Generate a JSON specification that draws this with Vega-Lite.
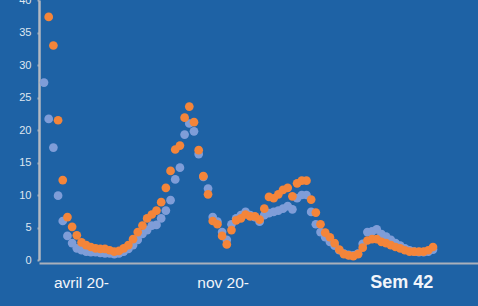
{
  "$schema": "https://vega.github.io/schema/vega-lite/v6.json",
  "width": 439,
  "height": 260,
  "autosize": {"type": "none"},
  "padding": {"left": 39, "top": 0, "right": 0, "bottom": 46},
  "background": "#1e62a5",
  "config": {"view": {"stroke": null}, "font": "Liberation Sans"},
  "data": {"values": [
    {"i":0,"serie":"s1","v":27.3},{"i":1,"serie":"s1","v":21.7},{"i":2,"serie":"s1","v":17.3},{"i":3,"serie":"s1","v":9.9},{"i":4,"serie":"s1","v":6.0},{"i":5,"serie":"s1","v":3.7},{"i":6,"serie":"s1","v":2.6},{"i":7,"serie":"s1","v":1.8},{"i":8,"serie":"s1","v":1.5},{"i":9,"serie":"s1","v":1.3},
    {"i":10,"serie":"s1","v":1.2},{"i":11,"serie":"s1","v":1.2},{"i":12,"serie":"s1","v":1.1},{"i":13,"serie":"s1","v":1.0},{"i":14,"serie":"s1","v":1.0},{"i":15,"serie":"s1","v":0.9},{"i":16,"serie":"s1","v":1.0},{"i":17,"serie":"s1","v":1.3},{"i":18,"serie":"s1","v":1.7},{"i":19,"serie":"s1","v":2.3},
    {"i":20,"serie":"s1","v":3.1},{"i":21,"serie":"s1","v":4.0},{"i":22,"serie":"s1","v":4.6},{"i":23,"serie":"s1","v":5.3},{"i":24,"serie":"s1","v":5.4},{"i":25,"serie":"s1","v":6.4},{"i":26,"serie":"s1","v":7.6},{"i":27,"serie":"s1","v":9.2},{"i":28,"serie":"s1","v":12.4},{"i":29,"serie":"s1","v":14.2},
    {"i":30,"serie":"s1","v":19.3},{"i":31,"serie":"s1","v":21.0},{"i":32,"serie":"s1","v":19.8},{"i":33,"serie":"s1","v":16.3},{"i":34,"serie":"s1","v":12.8},{"i":35,"serie":"s1","v":11.0},{"i":36,"serie":"s1","v":6.6},{"i":37,"serie":"s1","v":5.9},{"i":38,"serie":"s1","v":4.3},{"i":39,"serie":"s1","v":3.1},
    {"i":40,"serie":"s1","v":5.5},{"i":41,"serie":"s1","v":6.4},{"i":42,"serie":"s1","v":6.9},{"i":43,"serie":"s1","v":7.4},{"i":44,"serie":"s1","v":6.9},{"i":45,"serie":"s1","v":6.6},{"i":46,"serie":"s1","v":5.9},{"i":47,"serie":"s1","v":6.9},{"i":48,"serie":"s1","v":7.2},{"i":49,"serie":"s1","v":7.4},
    {"i":50,"serie":"s1","v":7.6},{"i":51,"serie":"s1","v":7.9},{"i":52,"serie":"s1","v":8.3},{"i":53,"serie":"s1","v":7.8},{"i":54,"serie":"s1","v":9.5},{"i":55,"serie":"s1","v":10.0},{"i":56,"serie":"s1","v":10.0},{"i":57,"serie":"s1","v":7.4},{"i":58,"serie":"s1","v":5.5},{"i":59,"serie":"s1","v":4.3},
    {"i":60,"serie":"s1","v":3.5},{"i":61,"serie":"s1","v":2.8},{"i":62,"serie":"s1","v":2.2},{"i":63,"serie":"s1","v":1.5},{"i":64,"serie":"s1","v":1.0},{"i":65,"serie":"s1","v":0.8},{"i":66,"serie":"s1","v":0.7},{"i":67,"serie":"s1","v":1.0},{"i":68,"serie":"s1","v":2.5},{"i":69,"serie":"s1","v":4.3},
    {"i":70,"serie":"s1","v":4.4},{"i":71,"serie":"s1","v":4.7},{"i":72,"serie":"s1","v":4.0},{"i":73,"serie":"s1","v":3.6},{"i":74,"serie":"s1","v":3.1},{"i":75,"serie":"s1","v":2.6},{"i":76,"serie":"s1","v":2.2},{"i":77,"serie":"s1","v":1.8},{"i":78,"serie":"s1","v":1.5},{"i":79,"serie":"s1","v":1.3},
    {"i":80,"serie":"s1","v":1.2},{"i":81,"serie":"s1","v":1.2},{"i":82,"serie":"s1","v":1.3},{"i":83,"serie":"s1","v":1.6},
    {"i":1,"serie":"s2","v":37.4},{"i":2,"serie":"s2","v":33.0},{"i":3,"serie":"s2","v":21.5},{"i":4,"serie":"s2","v":12.3},{"i":5,"serie":"s2","v":6.6},{"i":6,"serie":"s2","v":5.1},{"i":7,"serie":"s2","v":3.8},{"i":8,"serie":"s2","v":2.7},{"i":9,"serie":"s2","v":2.3},
    {"i":10,"serie":"s2","v":2.0},{"i":11,"serie":"s2","v":1.8},{"i":12,"serie":"s2","v":1.7},{"i":13,"serie":"s2","v":1.7},{"i":14,"serie":"s2","v":1.5},{"i":15,"serie":"s2","v":1.3},{"i":16,"serie":"s2","v":1.4},{"i":17,"serie":"s2","v":1.8},{"i":18,"serie":"s2","v":2.3},{"i":19,"serie":"s2","v":3.2},
    {"i":20,"serie":"s2","v":4.3},{"i":21,"serie":"s2","v":5.3},{"i":22,"serie":"s2","v":6.4},{"i":23,"serie":"s2","v":7.0},{"i":24,"serie":"s2","v":7.6},{"i":25,"serie":"s2","v":8.9},{"i":26,"serie":"s2","v":11.1},{"i":27,"serie":"s2","v":13.7},{"i":28,"serie":"s2","v":17.0},{"i":29,"serie":"s2","v":17.6},
    {"i":30,"serie":"s2","v":21.9},{"i":31,"serie":"s2","v":23.6},{"i":32,"serie":"s2","v":21.2},{"i":33,"serie":"s2","v":16.9},{"i":34,"serie":"s2","v":12.9},{"i":35,"serie":"s2","v":10.1},{"i":36,"serie":"s2","v":6.0},{"i":37,"serie":"s2","v":5.5},{"i":38,"serie":"s2","v":3.7},{"i":39,"serie":"s2","v":2.4},
    {"i":40,"serie":"s2","v":4.6},{"i":41,"serie":"s2","v":6.1},{"i":42,"serie":"s2","v":6.4},{"i":43,"serie":"s2","v":7.0},{"i":44,"serie":"s2","v":6.7},{"i":45,"serie":"s2","v":6.7},{"i":46,"serie":"s2","v":6.2},{"i":47,"serie":"s2","v":7.9},{"i":48,"serie":"s2","v":9.7},{"i":49,"serie":"s2","v":9.5},
    {"i":50,"serie":"s2","v":10.1},{"i":51,"serie":"s2","v":10.8},{"i":52,"serie":"s2","v":11.1},{"i":53,"serie":"s2","v":9.8},{"i":54,"serie":"s2","v":11.8},{"i":55,"serie":"s2","v":12.2},{"i":56,"serie":"s2","v":12.2},{"i":57,"serie":"s2","v":9.3},{"i":58,"serie":"s2","v":7.3},{"i":59,"serie":"s2","v":5.5},
    {"i":60,"serie":"s2","v":4.2},{"i":61,"serie":"s2","v":3.5},{"i":62,"serie":"s2","v":2.6},{"i":63,"serie":"s2","v":1.6},{"i":64,"serie":"s2","v":0.9},{"i":65,"serie":"s2","v":0.7},{"i":66,"serie":"s2","v":0.6},{"i":67,"serie":"s2","v":0.9},{"i":68,"serie":"s2","v":1.9},{"i":69,"serie":"s2","v":3.0},
    {"i":70,"serie":"s2","v":3.2},{"i":71,"serie":"s2","v":3.2},{"i":72,"serie":"s2","v":2.8},{"i":73,"serie":"s2","v":2.6},{"i":74,"serie":"s2","v":2.3},{"i":75,"serie":"s2","v":2.0},{"i":76,"serie":"s2","v":1.8},{"i":77,"serie":"s2","v":1.5},{"i":78,"serie":"s2","v":1.3},{"i":79,"serie":"s2","v":1.3},
    {"i":80,"serie":"s2","v":1.3},{"i":81,"serie":"s2","v":1.3},{"i":82,"serie":"s2","v":1.5},{"i":83,"serie":"s2","v":2.0}
  ]},
  "mark": {"type": "circle", "size": 76, "opacity": 1},
  "encoding": {
    "x": {
      "field": "i", "type": "quantitative",
      "scale": {"domain": [-1.07, 92.6], "nice": false, "zero": false},
      "axis": {
        "title": null, "grid": false, "ticks": false, "tickSize": 0,
        "values": [2, 32.6, 69.5],
        "labelExpr": "datum.value < 10 ? 'avril 20-' : (datum.value < 50 ? 'nov 20-' : 'Sem 42')",
        "labelAlign": "left", "labelBaseline": "alphabetic", "labelPadding": 24,
        "labelColor": "#f2f5fa", "labelFont": "Liberation Sans",
        "labelFontSize": {"condition": {"test": "datum.value > 60", "value": 18}, "value": 15.5},
        "labelFontWeight": {"condition": {"test": "datum.value > 60", "value": "bold"}, "value": "normal"},
        "labelFlush": false, "labelOverlap": false,
        "domainColor": "#a9b0bb", "domainWidth": 2, "offset": 3
      }
    },
    "y": {
      "field": "v", "type": "quantitative",
      "scale": {"domain": [0, 40], "nice": false},
      "axis": {
        "title": null, "grid": false, "values": [0, 5, 10, 15, 20, 25, 30, 35, 40],
        "tickSize": 2, "tickColor": "#a9b0bb", "tickWidth": 2,
        "labelPadding": 6, "labelColor": "#dfe6f0", "labelFontSize": 11, "labelFont": "Liberation Sans",
        "domainColor": "#b3b9c2", "domainWidth": 2.5
      }
    },
    "color": {
      "field": "serie", "type": "nominal", "legend": null,
      "scale": {"domain": ["s1", "s2"], "range": ["#7f9dd8", "#f4853a"]}
    }
  }
}
